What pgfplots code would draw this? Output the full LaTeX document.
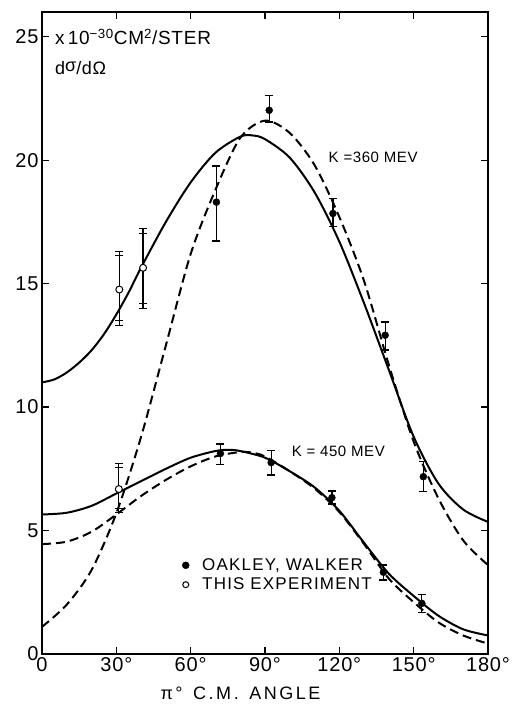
\documentclass[border=0pt]{standalone}
\usepackage{fontspec}
\setmainfont{Liberation Sans}[LetterSpace=4]
\newfontfamily\widefont{Liberation Sans}[LetterSpace=14]
\newfontfamily\legfont{Liberation Sans}[LetterSpace=7]
\usepackage{pgfplots}
\pgfplotsset{compat=1.18}
\pgfplotstableread{
x y
0 11.0
5 11.12
10 11.4
15 11.8
20 12.3
25 12.95
30 13.75
35 14.65
40 15.65
50 17.5
60 19.1
70 20.3
80 20.95
85 21.0
90 20.85
100 20.1
110 18.7
120 16.7
130 14.2
140 11.5
150 8.8
160 6.9
170 5.85
180 5.35
}\solidA
\pgfplotstableread{
x y
0 1.1
10 2.0
20 3.4
30 5.7
40 8.8
50 12.5
60 16.2
70 18.8
80 20.9
90 21.6
100 21.1
110 19.8
120 17.7
130 15.1
140 11.7
150 8.6
160 6.3
170 4.6
180 3.6
}\dashA
\pgfplotstableread{
x y
0 5.65
10 5.72
20 6.0
30 6.5
40 7.0
50 7.5
60 7.95
70 8.22
75 8.27
80 8.22
90 7.95
100 7.4
110 6.75
120 5.8
130 4.5
140 3.25
150 2.35
160 1.55
170 1.0
180 0.75
}\solidB
\pgfplotstableread{
x y
0 4.45
10 4.55
20 4.95
30 5.65
40 6.4
50 7.05
60 7.6
70 8.0
80 8.18
85 8.15
90 8.0
100 7.4
110 6.7
120 5.75
130 4.45
140 3.05
150 2.1
160 1.28
170 0.75
180 0.42
}\dashB
\pgfplotstableread{
x y ep em
70.4 18.3 1.46 1.57
91.7 22.02 0.61 0.47
117.4 17.84 0.61 0.54
138.5 12.91 0.54 0.60
153.9 7.18 0.61 0.61
72.0 8.12 0.38 0.44
92.5 7.75 0.48 0.50
117.0 6.33 0.27 0.26
137.8 3.31 0.29 0.31
153.3 2.05 0.37 0.38
}\filled
\pgfplotstableread{
x y ep em ep2 em2
31.2 14.76 1.53 1.46 1.39 1.24
40.8 15.64 1.59 1.64 1.39 1.44
31.0 6.68 1.04 0.96 0.88 0.78
}\open
\begin{document}
\begin{tikzpicture}
\useasboundingbox (-42pt,-50pt) rectangle (474pt,654pt);
\begin{axis}[
  at={(0,0)}, anchor=south west,
  scale only axis, width=446pt, height=642pt,
  xmin=0, xmax=180, ymin=0, ymax=26,
  xtick={0,30,...,180},
  xticklabels={0,30°,60°,90°,120°,150°,180°},
  ytick={0,5,...,25},
  yticklabels={0,5,10,15,20,25},
  tick align=inside, major tick length=7pt,
  every tick/.style={line width=1.3pt, black},
  axis line style={line width=1.9pt},
  tick label style={font=\fontsize{20}{22}\selectfont},
  clip=false,
  legend style={at={(axis description cs:0.314,0.152)}, anchor=north west,
    draw=none, fill=none, font=\legfont\fontsize{17}{20}\selectfont,
    row sep=2pt, inner sep=0pt},
  legend cell align=left,
  legend image code/.code={\draw[#1] plot coordinates {(4pt,0pt)};},
  err/.style={error bars/.cd, y dir=both, y explicit,
    error bar style={line width=1.3pt},
    error mark options={rotate=90, line width=1.3pt, mark size=4pt}},
]
\addplot[black, line width=2pt, smooth, forget plot] table[x=x,y=y] {\solidA};
\addplot[black, line width=2pt, smooth, dash pattern=on 9pt off 5pt, forget plot] table[x=x,y=y] {\dashA};
\addplot[black, line width=2pt, smooth, forget plot] table[x=x,y=y] {\solidB};
\addplot[black, line width=2pt, smooth, dash pattern=on 9pt off 5pt, forget plot] table[x=x,y=y] {\dashB};
\addplot[black, only marks, mark=*, mark size=3.5pt, forget plot, err]
  table[x=x,y=y,y error plus=ep,y error minus=em] {\filled};
\addplot[black, draw=none, mark=none, forget plot, err]
  table[x=x,y=y,y error plus=ep2,y error minus=em2] {\open};
\addplot[black, only marks, mark=*, mark size=3.5pt, mark options={fill=white, line width=1pt}, forget plot, err]
  table[x=x,y=y,y error plus=ep,y error minus=em] {\open};
\addlegendimage{black, only marks, mark=*, mark size=3.5pt}
\addlegendentry{\hspace{11pt}OAKLEY, WALKER}
\addlegendimage{black, only marks, mark=*, mark size=3pt, mark options={fill=white, line width=1pt}}
\addlegendentry{\hspace{11pt}THIS EXPERIMENT}
\node[anchor=west, font=\fontsize{15}{18}\selectfont] at (axis cs:114.3,20.13) {K =360 MEV};
\node[anchor=west, font=\fontsize{15}{18}\selectfont] at (axis cs:99.4,8.2) {K = 450 MEV};
\node[anchor=west, font=\fontsize{19}{20}\selectfont, inner sep=0pt] at (axis description cs:0.029,0.961) {x\,10\textsuperscript{−30}CM\textsuperscript{2}/STER};
\node[anchor=west, font=\fontsize{18}{20}\selectfont, inner sep=0pt] at (axis description cs:0.029,0.912) {d\raisebox{3pt}{σ}/dΩ};
\node[font=\widefont\fontsize{18}{20}\selectfont, inner sep=0pt] at (axis description cs:0.445,-0.0615) {π°\, C.M.\, ANGLE};
\end{axis}
\end{tikzpicture}
\end{document}
